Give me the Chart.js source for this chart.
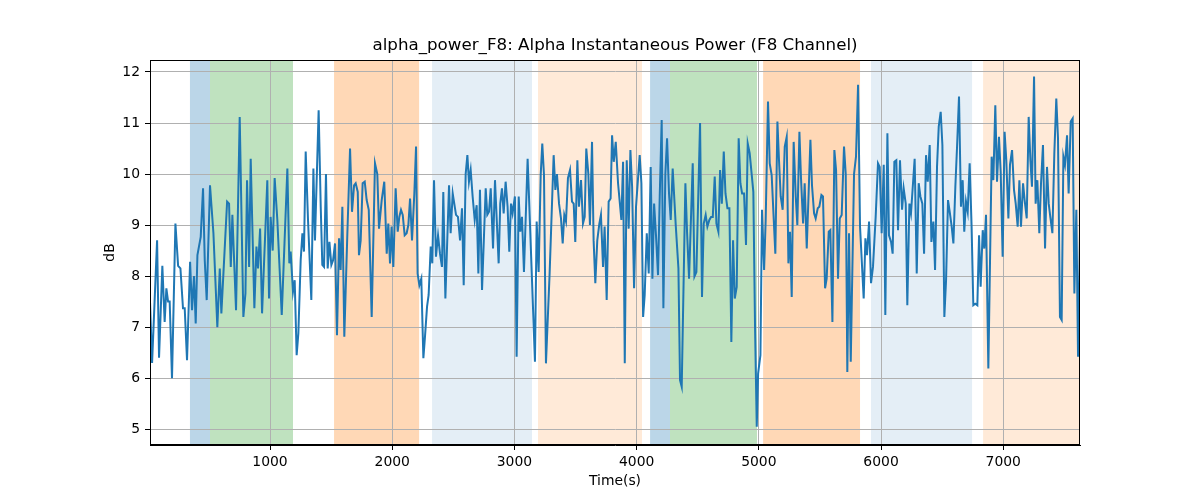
<!DOCTYPE html>
<html>
<head>
<meta charset="utf-8">
<script src="https://cdn.jsdelivr.net/npm/chart.js@4"></script>
<style>
  html, body { margin: 0; padding: 0; background: #fff; }
</style>
</head>
<body>
<canvas id="chart" width="1200" height="500"></canvas>
<script>
// sample times (s) and alpha power (dB)
const times = [
  18, 35, 76, 92, 119, 138, 152, 166, 179, 198, 226, 248, 267, 288, 302, 321, 346, 362, 378, 392,
  406, 433, 452, 466, 482, 509, 537, 569, 589, 602, 649, 665, 679, 692, 722, 752, 782, 799, 812, 829,
  842, 872, 889, 902, 919, 935, 978, 992, 1005, 1022, 1038, 1060, 1096, 1142, 1158, 1169, 1188, 1202, 1218, 1232,
  1251, 1265, 1278, 1292, 1311, 1338, 1355, 1368, 1398, 1415, 1428, 1442, 1458, 1472, 1486, 1502, 1516, 1532, 1548, 1565,
  1578, 1592, 1608, 1633, 1655, 1671, 1688, 1701, 1718, 1728, 1742, 1758, 1775, 1791, 1808, 1832, 1859, 1878, 1892, 1914,
  1935, 1955, 1968, 1982, 1995, 2009, 2028, 2045, 2058, 2072, 2086, 2102, 2118, 2132, 2146, 2162, 2181, 2195, 2208, 2222,
  2238, 2255, 2268, 2285, 2298, 2315, 2328, 2342, 2358, 2375, 2391, 2407, 2418, 2435, 2465, 2478, 2495, 2522, 2538, 2555,
  2571, 2585, 2601, 2615, 2628, 2642, 2658, 2675, 2691, 2705, 2718, 2735, 2765, 2778, 2792, 2806, 2825, 2841, 2871, 2884,
  2898, 2912, 2928, 2944, 2958, 2972, 2985, 3004, 3018, 3035, 3048, 3062, 3078, 3108, 3130, 3168, 3182, 3198, 3215, 3228,
  3242, 3258, 3288, 3321, 3335, 3348, 3365, 3381, 3395, 3408, 3422, 3438, 3455, 3471, 3485, 3498, 3515, 3528, 3545, 3561,
  3575, 3588, 3605, 3618, 3635, 3648, 3662, 3678, 3695, 3708, 3725, 3738, 3755, 3771, 3787, 3799, 3813, 3829, 3848, 3875,
  3889, 3903, 3919, 3935, 3949, 3963, 3979, 3995, 4025, 4039, 4053, 4066, 4083, 4099, 4115, 4129, 4143, 4159, 4175, 4189,
  4205, 4219, 4235, 4249, 4265, 4279, 4295, 4320, 4342, 4355, 4369, 4399, 4413, 4429, 4459, 4473, 4489, 4519, 4535, 4549,
  4565, 4579, 4595, 4609, 4623, 4639, 4653, 4669, 4683, 4697, 4713, 4727, 4743, 4759, 4775, 4789, 4803, 4819, 4835, 4849,
  4863, 4879, 4895, 4909, 4925, 4955, 4969, 4983, 4994, 5013, 5026, 5043, 5056, 5075, 5089, 5105, 5135, 5152, 5165, 5179,
  5195, 5212, 5228, 5242, 5255, 5269, 5285, 5302, 5315, 5332, 5345, 5362, 5375, 5392, 5422, 5435, 5452, 5465, 5482, 5495,
  5512, 5525, 5542, 5555, 5572, 5585, 5602, 5618, 5632, 5648, 5662, 5678, 5697, 5711, 5724, 5738, 5752, 5779, 5795, 5812,
  5828, 5858, 5872, 5885, 5902, 5918, 5934, 5956, 5975, 5989, 6005, 6022, 6035, 6052, 6065, 6082, 6095, 6109, 6125, 6139,
  6155, 6172, 6185, 6202, 6215, 6232, 6245, 6275, 6292, 6308, 6322, 6338, 6352, 6368, 6382, 6398, 6412, 6428, 6442, 6458,
  6472, 6488, 6502, 6518, 6532, 6548, 6562, 6578, 6592, 6608, 6622, 6638, 6654, 6668, 6681, 6695, 6709, 6725, 6741, 6755,
  6771, 6788, 6802, 6815, 6832, 6845, 6859, 6878, 6905, 6919, 6935, 6949, 6965, 6979, 6995, 7011, 7025, 7042, 7055, 7072,
  7088, 7102, 7118, 7132, 7145, 7162, 7175, 7192, 7208, 7222, 7235, 7252, 7265, 7279, 7295, 7309, 7325, 7342, 7358, 7372,
  7385, 7402, 7418, 7434, 7448, 7464, 7478, 7492, 7505, 7522, 7535, 7552, 7568, 7582, 7598, 7612, 7628
];
const dbValues = [
  7.5, 6.3, 8.7, 6.4, 8.2, 7.1, 7.76, 7.5, 7.5, 6.0, 9.03, 8.2, 8.15, 7.37, 7.37, 6.35, 8.28, 7.33, 8.0, 7.07,
  8.41, 8.77, 9.72, 8.31, 7.53, 9.78, 8.84, 7.0, 8.15, 7.27, 9.46, 9.42, 8.18, 9.2, 7.33, 11.12, 7.2, 7.66, 9.88, 8.18,
  10.3, 7.37, 8.58, 8.15, 8.93, 7.27, 9.88, 7.56, 9.16, 8.5, 9.92, 9.1, 7.24, 10.11, 8.25, 8.48, 7.69, 7.92, 6.45, 6.88,
  8.31, 8.84, 8.48, 10.44, 9.1, 7.53, 10.11, 8.7, 11.25, 9.36, 8.22, 8.18, 10.0, 8.15, 8.67, 8.22, 8.31, 8.64, 6.84, 8.74,
  8.12, 9.36, 6.81, 8.84, 10.5, 9.26, 9.78, 9.82, 9.65, 8.41, 8.7, 9.82, 9.85, 9.49, 9.3, 7.2, 10.21, 10.0, 8.93, 9.49,
  9.85, 8.44, 9.03, 8.25, 8.97, 8.18, 9.72, 8.87, 9.16, 9.3, 9.2, 8.8, 8.84, 9.0, 9.52, 8.7, 9.62, 10.54, 8.05, 7.82,
  7.95, 6.39, 6.81, 7.4, 7.63, 8.58, 8.25, 9.88, 8.38, 8.8, 8.44, 8.18, 9.65, 7.56, 9.78, 8.84, 9.62, 9.2, 9.16, 8.7,
  9.33, 7.82, 10.0, 10.37, 9.85, 10.08, 9.56, 9.1, 9.39, 8.05, 9.69, 7.73, 9.72, 9.2, 9.26, 9.72, 8.54, 9.88, 8.25, 9.42,
  9.72, 9.23, 9.85, 9.36, 8.48, 9.42, 9.23, 9.56, 6.42, 9.56, 8.87, 9.16, 8.08, 10.3, 8.84, 6.32, 9.07, 8.08, 9.98, 10.6,
  9.98, 6.29, 8.05, 10.37, 9.69, 10.0, 9.42, 9.13, 8.64, 9.2, 9.07, 9.92, 10.08, 9.46, 9.42, 8.67, 10.27, 9.36, 9.88, 9.03,
  9.16, 10.5, 10.0, 9.0, 10.63, 8.7, 7.86, 8.7, 9.03, 9.2, 8.18, 8.97, 7.53, 9.46, 9.52, 10.76, 10.24, 10.63, 9.82, 9.1,
  10.24, 6.29, 10.27, 8.93, 10.47, 9.75, 7.76, 9.36, 10.37, 9.82, 7.2, 7.63, 8.84, 8.05, 10.14, 7.95, 9.42, 8.77, 8.02, 9.56,
  11.06, 7.37, 10.0, 10.7, 9.62, 9.1, 10.11, 9.0, 8.15, 5.96, 5.83, 9.82, 8.84, 7.95, 10.21, 7.99, 8.08, 11.0, 7.59, 9.03,
  9.2, 8.97, 9.1, 9.16, 9.16, 9.95, 9.03, 8.87, 10.08, 9.42, 10.44, 9.62, 9.33, 9.33, 6.71, 8.7, 7.56, 7.79, 10.7, 9.82,
  9.62, 9.62, 8.61, 10.6, 10.41, 9.65, 7.0, 5.05, 6.09, 6.45, 9.3, 8.12, 9.1, 11.42, 10.21, 9.98, 8.44, 11.03, 10.27, 9.56,
  9.3, 10.54, 10.73, 8.25, 8.87, 7.59, 10.63, 9.56, 9.0, 10.83, 9.92, 9.03, 9.82, 8.54, 10.67, 9.78, 9.23, 9.13, 9.33, 9.36,
  9.59, 9.56, 7.76, 7.95, 8.87, 8.9, 7.1, 10.47, 10.08, 7.95, 9.13, 9.2, 10.54, 10.0, 6.12, 8.84, 6.32, 10.0, 10.34, 11.75,
  8.97, 7.56, 8.74, 8.41, 9.07, 7.86, 8.18, 9.16, 10.21, 10.14, 8.84, 10.18, 7.24, 10.8, 8.8, 8.67, 8.44, 10.24, 10.27, 8.9,
  10.27, 9.3, 9.72, 9.42, 7.43, 9.42, 9.23, 10.3, 8.05, 9.82, 9.56, 9.42, 8.44, 10.37, 9.85, 10.57, 8.67, 9.07, 8.12, 10.14,
  10.93, 11.22, 10.57, 7.2, 7.92, 9.49, 9.26, 8.97, 8.64, 9.75, 10.54, 11.52, 9.36, 9.88, 8.87, 9.46, 9.26, 10.21, 8.97, 7.43,
  7.46, 7.43, 8.8, 7.79, 8.9, 8.54, 9.2, 6.19, 10.34, 9.88, 11.35, 9.85, 10.73, 10.05, 8.38, 10.83, 10.27, 9.13, 10.18, 10.47,
  9.69, 9.42, 8.97, 9.88, 8.97, 9.82, 9.49, 9.13, 11.12, 10.27, 9.75, 11.91, 9.42, 9.88, 8.84, 9.82, 10.57, 8.54, 10.14, 9.42,
  9.16, 8.84, 10.41, 11.48, 10.7, 7.2, 7.14, 10.34, 10.18, 10.76, 9.62, 11.03, 11.09, 7.66, 9.3, 6.42, 8.84
];

const xTicks = [1000, 2000, 3000, 4000, 5000, 6000, 7000];
const yTicks = [5, 6, 7, 8, 9, 10, 11, 12];

// shaded intervals (s) and their kind
const spanStart = [345, 509, 1524, 2326, 3193, 4110, 4273, 5035, 5918, 6835];
const spanEnd   = [509, 1188, 2220, 3144, 4044, 4273, 4985, 5828, 6745, 7628];
const spanKind  = ['blue', 'green', 'orange', 'lightblue', 'lightorange',
                   'blue', 'green', 'orange', 'lightblue', 'lightorange'];

const spanFill = {
  blue: 'rgba(31,119,180,0.3)',
  green: 'rgba(44,160,44,0.3)',
  orange: 'rgba(255,127,14,0.3)',
  lightblue: 'rgba(31,119,180,0.12)',
  lightorange: 'rgba(255,127,14,0.16)'
};

const titleText = 'alpha_power_F8: Alpha Instantaneous Power (F8 Channel)';

const FONT = 'DejaVu Sans';
Chart.defaults.font.family = FONT;
Chart.defaults.color = '#000';

const spansPlugin = {
  id: 'spans',
  beforeDraw(chart) {
    const { ctx, chartArea: a, scales: { x } } = chart;
    ctx.save();
    ctx.beginPath();
    ctx.rect(a.left, a.top, a.right - a.left, a.bottom - a.top);
    ctx.clip();
    for (let i = 0; i < spanStart.length; i++) {
      const x1 = x.getPixelForValue(spanStart[i]);
      const x2 = x.getPixelForValue(spanEnd[i]);
      ctx.fillStyle = spanFill[spanKind[i]];
      ctx.fillRect(x1, a.top, x2 - x1, a.bottom - a.top);
    }
    ctx.restore();
  }
};

// frame on all four sides + title centred over the axes (like matplotlib)
const framePlugin = {
  id: 'frame',
  afterDraw(chart) {
    const { ctx, chartArea: a } = chart;
    ctx.save();
    ctx.strokeStyle = '#000';
    ctx.lineWidth = 1;
    ctx.strokeRect(Math.round(a.left) + 0.5, Math.round(a.top) + 0.5,
                   Math.round(a.right - a.left) - 1, Math.round(a.bottom - a.top) - 1);
    ctx.fillStyle = '#000';
    ctx.font = '16.7px ' + FONT;
    ctx.textAlign = 'center';
    ctx.textBaseline = 'middle';
    ctx.fillText(titleText, (a.left + a.right) / 2, 46);
    ctx.restore();
  }
};

new Chart(document.getElementById('chart').getContext('2d'), {
  type: 'line',
  data: {
    datasets: [{
      data: times.map((t, i) => ({ x: t, y: dbValues[i] })),
      borderColor: '#1f77b4',
      borderWidth: 2,
      pointRadius: 0,
      tension: 0,
      fill: false
    }]
  },
  options: {
    responsive: false,
    animation: false,
    layout: { padding: { left: 0, right: 120, top: 60, bottom: 0 } },
    plugins: {
      legend: { display: false },
      tooltip: { enabled: false },
      title: { display: false }
    },
    scales: {
      x: {
        type: 'linear',
        min: 18,
        max: 7628,
        afterBuildTicks: s => { s.ticks = xTicks.map(v => ({ value: v })); },
        afterFit: s => { s.height = 55; },
        ticks: { font: { size: 13.9 }, color: '#000', padding: 4, maxRotation: 0, autoSkip: false,
                 callback: v => String(v) },
        grid: { color: '#b0b0b0', lineWidth: 1, tickLength: 5, tickColor: '#000' },
        border: { display: true, color: '#000' },
        title: { display: true, text: 'Time(s)', font: { size: 13.9 }, color: '#000', padding: { top: 0, bottom: 10.7 } }
      },
      y: {
        min: 4.69,
        max: 12.235,
        afterBuildTicks: s => { s.ticks = yTicks.map(v => ({ value: v })); },
        afterFit: s => { s.width = 150; },
        ticks: { font: { size: 13.9 }, color: '#000', padding: 5, callback: v => String(v) },
        grid: { color: '#b0b0b0', lineWidth: 1, tickLength: 5, tickColor: '#000' },
        border: { display: true, color: '#000' },
        title: { display: true, text: 'dB', font: { size: 13.9 }, color: '#000', padding: { top: 102, bottom: 0 } }
      }
    }
  },
  plugins: [spansPlugin, framePlugin]
});
</script>
</body>
</html>
